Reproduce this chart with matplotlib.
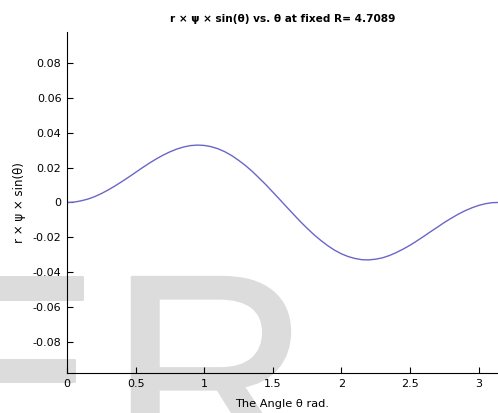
import matplotlib
matplotlib.use('Agg')
import matplotlib.pyplot as plt
import matplotlib.patheffects as pe

# values
theta = [0.0, 0.05, 0.1, 0.15, 0.2, 0.25, 0.3, 0.35, 0.4, 0.45, 0.5,
         0.55, 0.6, 0.65, 0.7, 0.75, 0.8, 0.85, 0.9, 0.95, 1.0,
         1.05, 1.1, 1.15, 1.2, 1.25, 1.3, 1.35, 1.4, 1.45, 1.5,
         1.55, 1.6, 1.65, 1.7, 1.75, 1.8, 1.85, 1.9, 1.95, 2.0,
         2.05, 2.1, 2.15, 2.2, 2.25, 2.3, 2.35, 2.4, 2.45, 2.5,
         2.55, 2.6, 2.65, 2.7, 2.75, 2.8, 2.85, 2.9, 2.95, 3.0,
         3.05, 3.1, 3.1416]
r_psi_sin = [0.0, 0.0002, 0.0009, 0.0019, 0.0033, 0.0051, 0.0072, 0.0095, 0.0120, 0.0146, 0.0173,
             0.0200, 0.0226, 0.0250, 0.0272, 0.0291, 0.0307, 0.0319, 0.0327, 0.0330, 0.0328,
             0.0321, 0.0309, 0.0292, 0.0270, 0.0243, 0.0213, 0.0179, 0.0141, 0.0102, 0.0060,
             0.0018, -0.0025, -0.0067, -0.0109, -0.0148, -0.0185, -0.0218, -0.0248, -0.0274, -0.0295,
             -0.0311, -0.0322, -0.0329, -0.0330, -0.0326, -0.0318, -0.0305, -0.0288, -0.0268, -0.0246,
             -0.0221, -0.0195, -0.0168, -0.0142, -0.0115, -0.0091, -0.0068, -0.0048, -0.0031, -0.0017,
             -0.0007, -0.0001, 0.0]

x_ticks = [0, 0.5, 1, 1.5, 2, 2.5, 3]
x_ticklabels = ['0', '0.5', '1', '1.5', '2', '2.5', '3']
y_ticks = [-0.08, -0.06, -0.04, -0.02, 0, 0.02, 0.04, 0.06, 0.08]
y_ticklabels = ['-0.08', '-0.06', '-0.04', '-0.02', '0', '0.02', '0.04', '0.06', '0.08']

title = 'r \u00d7 \u03c8 \u00d7 sin(\u03b8) vs. \u03b8 at fixed R= 4.7089'
xlabel = 'The Angle \u03b8 rad.'
ylabel = 'r \u00d7 \u03c8 \u00d7 sin(\u03b8)'

plt.rcParams['font.family'] = ['DejaVu Sans']
plt.rcParams['axes.unicode_minus'] = False

fig = plt.figure(figsize=(4.98, 4.13), dpi=100)
ax = fig.add_axes([0.1345, 0.0961, 0.8655, 0.8264])
ax.patch.set_alpha(0)

# grey watermark letters behind the plot
wm = dict(fontsize=200, color='#dcdcdc', va='baseline', ha='left', zorder=-5,
          family='Liberation Sans',
          path_effects=[pe.withStroke(linewidth=2.2, foreground='#dcdcdc')])
fig.text(-0.1717, -0.1343, 'E', **wm)
fig.text(0.2199, -0.1343, 'R', **wm)

ax.plot(theta, r_psi_sin, color='#6a66c8', lw=1.0)

ax.set_xlim(0, 3.1416)
ax.set_ylim(-0.0982, 0.098)
ax.set_xticks(x_ticks)
ax.set_xticklabels(x_ticklabels)
ax.set_yticks(y_ticks)
ax.set_yticklabels(y_ticklabels)
ax.tick_params(direction='in', length=4, width=0.8, labelsize=8, pad=4, colors='black')
for side in ['top', 'right']:
    ax.spines[side].set_visible(False)
for side in ['left', 'bottom']:
    ax.spines[side].set_linewidth(0.8)

ax.set_title(title, fontsize=7.6, fontweight='bold', pad=7)
ax.set_xlabel(xlabel, fontsize=8.2, labelpad=7)
ax.set_ylabel(ylabel, fontsize=8.5, labelpad=5)

fig.savefig('out.png', dpi=100)
